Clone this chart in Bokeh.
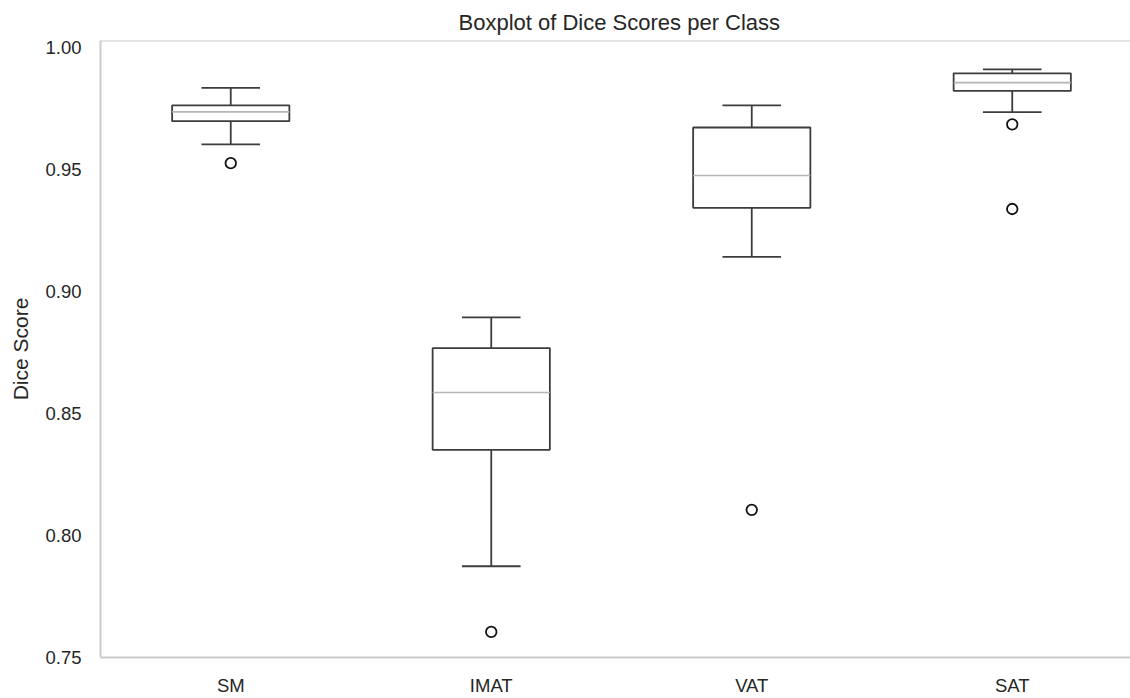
from bokeh.plotting import figure
from bokeh.models import Range1d, FixedTicker, Span, PrintfTickFormatter
from bokeh.embed import file_html
from bokeh.resources import INLINE

# ---- data ----
classes = ["SM", "IMAT", "VAT", "SAT"]
upper_whisker = [0.9834, 0.8894, 0.9763, 0.9910]
q3 = [0.9763, 0.8768, 0.9672, 0.9894]
median = [0.9736, 0.8586, 0.9475, 0.9856]
q1 = [0.9698, 0.8351, 0.9343, 0.9822]
lower_whisker = [0.9603, 0.7874, 0.9142, 0.9735]
outlier_class = ["SM", "IMAT", "VAT", "SAT", "SAT"]
outlier_value = [0.9526, 0.7605, 0.8105, 0.9685, 0.9338]
y_ticks = [0.75, 0.80, 0.85, 0.90, 0.95, 1.00]
chart_title = "Boxplot of Dice Scores per Class"
y_label = "Dice Score"

FONT = "Liberation Sans"
TEXT = "#262626"
SPINE = "#cccccc"
EDGE = "#3d3d3d"

pos = [i + 1 for i in range(len(classes))]
out_x = [classes.index(c) + 1 for c in outlier_class]
box_w = 0.45
cap_w = box_w / 2

p = figure(width=1130, height=698, output_backend="svg", toolbar_location=None,
           x_range=Range1d(0.5, 0.5 + 1030 / 260.5),
           y_range=Range1d(0.75, 0.75 + 620 / 2452),
           min_border_left=100, min_border_right=0, min_border_top=40, min_border_bottom=38)

p.title.text = chart_title
p.title.align = "left"
p.title.offset = 358
p.title.text_font = FONT
p.title.text_font_size = "22px"
p.title.text_font_style = "normal"
p.title.text_color = TEXT
p.title.standoff = 12

p.outline_line_color = None
p.xgrid.visible = False
p.ygrid.visible = False
p.background_fill_color = "white"
p.border_fill_color = "white"

LW = 1.8
# boxes
p.vbar(x=pos, width=box_w, top=q3, bottom=q1, fill_color="white",
       line_color=EDGE, line_width=LW)
# medians
p.segment(x0=[x - box_w / 2 for x in pos], x1=[x + box_w / 2 for x in pos],
          y0=median, y1=median, line_color="#b5b5b5", line_width=1.6)
# whiskers
p.segment(x0=pos, x1=pos, y0=q3, y1=upper_whisker, line_color=EDGE, line_width=LW)
p.segment(x0=pos, x1=pos, y0=q1, y1=lower_whisker, line_color=EDGE, line_width=LW)
# caps
p.segment(x0=[x - cap_w / 2 for x in pos], x1=[x + cap_w / 2 for x in pos],
          y0=upper_whisker, y1=upper_whisker, line_color=EDGE, line_width=LW)
p.segment(x0=[x - cap_w / 2 for x in pos], x1=[x + cap_w / 2 for x in pos],
          y0=lower_whisker, y1=lower_whisker, line_color=EDGE, line_width=LW)
# outliers
p.scatter(x=out_x, y=outlier_value, marker="circle", size=10.5,
          fill_color="white", line_color="#111111", line_width=1.8)

# top spine
p.add_layout(Span(location=p.y_range.end, dimension="width", line_color=SPINE, line_width=2))

# axes
for ax in (p.xaxis[0], p.yaxis[0]):
    ax.axis_line_color = SPINE
    ax.axis_line_width = 2
    ax.major_tick_line_color = None
    ax.minor_tick_line_color = None
    ax.major_tick_out = 0
    ax.major_tick_in = 0
    ax.minor_tick_out = 0
    ax.minor_tick_in = 0
    ax.major_label_text_font = FONT
    ax.major_label_text_font_size = "18.5px"
    ax.major_label_text_color = TEXT

p.xaxis.ticker = FixedTicker(ticks=pos)
p.xaxis.major_label_overrides = {x: c for x, c in zip(pos, classes)}
p.xaxis.major_label_standoff = 17

p.yaxis.ticker = FixedTicker(ticks=y_ticks)
p.yaxis.formatter = PrintfTickFormatter(format="%.2f")
p.yaxis.major_label_standoff = 19
p.yaxis.axis_label = y_label
p.yaxis.axis_label_text_font = FONT
p.yaxis.axis_label_text_font_size = "21px"
p.yaxis.axis_label_text_font_style = "normal"
p.yaxis.axis_label_text_color = TEXT
p.yaxis.axis_label_standoff = 10

open("out.html", "w").write(file_html(p, INLINE))
